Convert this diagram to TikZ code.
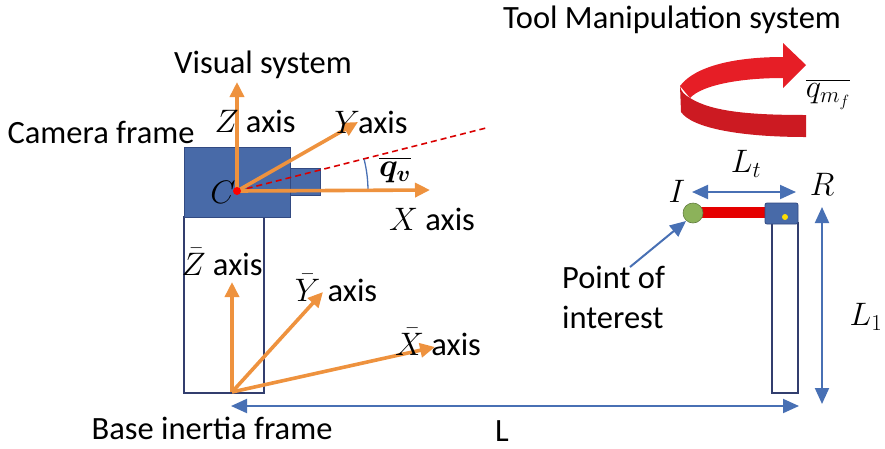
\documentclass[tikz,border=0pt]{standalone}
\usepackage{fix-cm}
\usepackage{amsmath,bm}
\usepackage{fontspec}
\setmainfont{Carlito}
\usetikzlibrary{arrows.meta}

\definecolor{axisorange}{RGB}{238,146,62}
\definecolor{camblue}{RGB}{72,106,168}
\definecolor{camedge}{RGB}{50,74,130}
\definecolor{dimblue}{RGB}{72,112,180}
\definecolor{postnavy}{RGB}{50,62,110}
\definecolor{ribbonred}{RGB}{230,30,38}
\definecolor{ribbondark}{RGB}{204,26,34}
\definecolor{tipgreen}{RGB}{140,178,90}

\tikzset{
  lbl/.style={font=\fontsize{32.5}{40}\selectfont, inner sep=1pt},
  axisarrow/.style={axisorange, line width=3.6pt, -{Triangle[length=15pt,width=14pt]}},
  dimarrow/.style={dimblue, line width=2pt, {Triangle[length=16pt,width=14pt]}-{Triangle[length=16pt,width=14pt]}},
  post/.style={postnavy, line width=1.5pt},
}

\begin{document}
\begin{tikzpicture}[x=1pt,y=-1pt]
  \useasboundingbox (0,0) rectangle (885,448);

  % points of the two frames
  \coordinate (C) at (237,191);
  \coordinate (Ztip) at (237,82);
  \coordinate (Ytip) at (358,122);
  \coordinate (Xtip) at (430,190);
  \coordinate (view) at (486,128);
  \coordinate (O) at (232,392);
  \coordinate (Zbtip) at (232,282);
  \coordinate (Ybtip) at (323,292);
  \coordinate (Xbtip) at (435,347);

  % posts
  \draw[post] (184,217) rectangle (264,393);
  \draw[post] (772,223) rectangle (798,393);

  % camera body and lens
  \draw[camedge, fill=camblue, line width=1pt] (184,147) rectangle (290,217);
  \draw[camedge, fill=camblue, line width=1pt] (290,168) rectangle (320,195);

  % line of sight and its angle
  \draw[red!85!black, line width=1.6pt, dash pattern=on 6pt off 4pt] (C) -- (view);
  \draw[dimblue, line width=1.3pt] (C) ++(0:131) arc[start angle=0, end angle=-14, radius=131];

  % camera axes
  \draw[axisarrow] (C) -- (Ztip);
  \draw[axisarrow] (C) -- (Ytip);
  \draw[axisarrow] (C) -- (Xtip);
  \fill[red] (C) circle (4);

  % base axes
  \draw[axisarrow] (O) -- (Zbtip);
  \draw[axisarrow] (O) -- (Ybtip);
  \draw[axisarrow] (O) -- (Xbtip);

  % tool: rotation ribbon
  \fill[ribbonred] (680,86) .. controls (695,66) and (735,57) .. (783,57) -- (783,43) -- (806,65) -- (783,88) -- (783,78) .. controls (740,78) and (702,85) .. (690,98) -- cycle;
  \fill[ribbondark] (680,86) .. controls (681,92) and (685,95) .. (690,98) .. controls (712,112) and (752,115) .. (806,115) -- (806,137) .. controls (740,137) and (692,128) .. (681,112) -- cycle;

  % tool: link, joint and tip
  \fill[red!90!black] (700,207) rectangle (770,218);
  \draw[camedge, fill=camblue, rounded corners=2pt, line width=0.8pt] (765,203) rectangle (798,224);
  \fill[yellow!80!orange] (785,217) circle (3);
  \draw[tipgreen!70!black, fill=tipgreen, line width=0.6pt] (693,213) circle (10);

  % dimensions
  \coordinate (Lt0) at (692,192);
  \coordinate (Lt1) at (796,192);
  \draw[dimarrow] (Lt0) -- (Lt1);
  \coordinate (La) at (822,207);
  \coordinate (Lb) at (822,404);
  \draw[dimarrow] (La) -- (Lb);
  \coordinate (L0) at (231,406);
  \coordinate (L1) at (799,406);
  \draw[dimarrow] (L0) -- (L1);

  % labels
  \node[lbl] (camlab) at (101,132) {Camera frame};
  \node[lbl] (vislab) at (263,65) {Visual system};
  \node[lbl] (toollab) at (672,20) {Tool Manipulation system};
  \node[lbl] (baselab) at (212,428) {Base inertia frame};
  \node[lbl] (Llab) at (502,431) {L};
  \node[lbl, anchor=west, align=left] (poi) at (561,297) {Point of\\interest};
  \coordinate (poitail) at (630,267);
  \coordinate (Itip) at (686,221);
  \draw[dimblue, line width=2pt, -{Triangle[length=16pt,width=14pt]}] (poitail) -- (Itip);

  \node[lbl] (Clab) at (223,192) {$C$};
  \node[lbl] (Zlab) at (255,121) {$Z$ axis};
  \node[lbl] (Ylab) at (371,122) {$Y$\kern-2pt axis};
  \node[lbl] (Xlab) at (432,219) {$X$ axis};
  \node[lbl] (Zblab) at (222,262) {$\bar{Z}$ axis};
  \node[lbl] (Yblab) at (336,288) {$\bar{Y}$ axis};
  \node[lbl] (Xblab) at (438,342) {$\bar{X}$ axis};
  \node[lbl] (qvlab) at (395,170) {$\overline{\bm{q}_{\bm{v}}}$};
  \node[lbl] (qmlab) at (828,94) {$\overline{q_{m_f}}$};
  \node[lbl] (Ltlab) at (746,164) {$L_t$};
  \node[lbl] (Ilab) at (677,191) {$I$};
  \node[lbl] (Rlab) at (822,184) {$R$};
  \node[lbl] (L1lab) at (866,317) {$L_1$};
\end{tikzpicture}
\end{document}
